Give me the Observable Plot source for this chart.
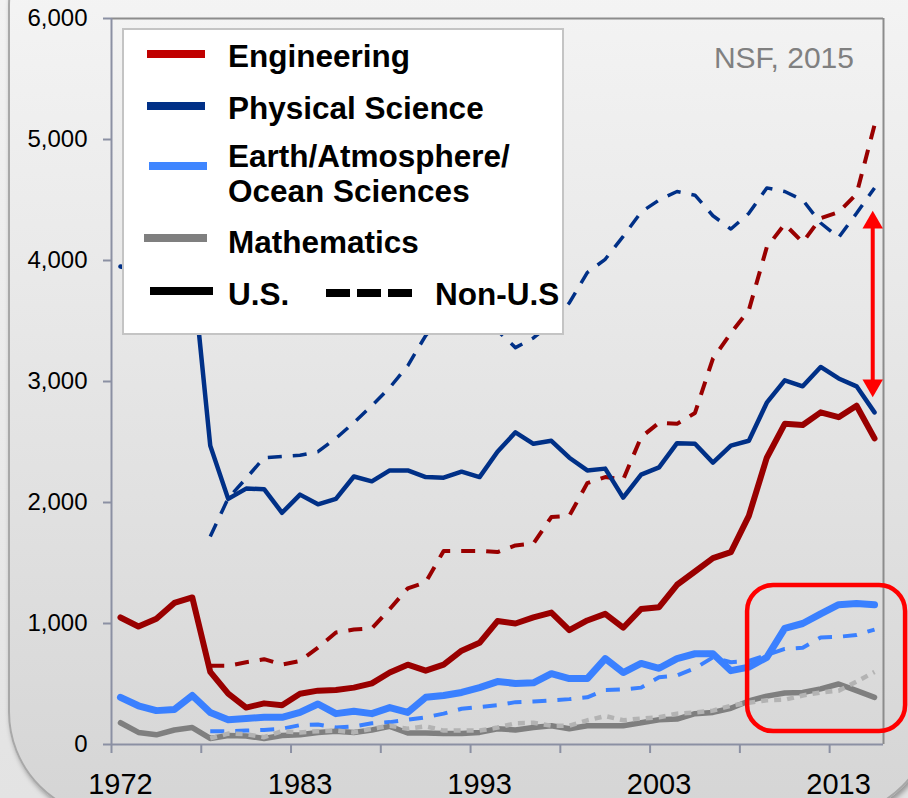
<!DOCTYPE html>
<html><head><meta charset="utf-8">
<script src="https://cdn.jsdelivr.net/npm/d3@7"></script>
<script src="https://cdn.jsdelivr.net/npm/@observablehq/plot@0.6"></script>
<style>
html,body{margin:0;padding:0;}
body{width:908px;height:798px;overflow:hidden;position:relative;background:linear-gradient(#f2f2f2,#e3e3e3);font-family:Arial,"Liberation Sans",sans-serif;}
#frame{position:absolute;left:8px;top:-100px;width:922px;height:914px;border:2px solid #a8a8a8;border-radius:106px;background:linear-gradient(#f7f7f7 0%,#d5d5d5 100%);box-shadow:2px 3px 5px rgba(0,0,0,0.35);}
#chart{position:absolute;left:0;top:0;}
</style></head><body><div id="frame"></div><div id="chart"></div>
<script>
// Categories (one year missing in the source series: 1973)
const years = [1972,1974,1975,1976,1977,1978,1979,1980,1981,1982,1983,1984,1985,1986,1987,1988,1989,1990,1991,1992,1993,1994,1995,1996,1997,1998,1999,2000,2001,2002,2003,2004,2005,2006,2007,2008,2009,2010,2011,2012,2013,2014,2015];
const xLabelIdx = [0,10,20,30,40];
const xTickBounds = [-0.5,4.5,9.5,14.5,19.5,24.5,29.5,34.5,39.5];
const yTicks = [0,1000,2000,3000,4000,5000,6000];

const seriesNames = ["Engineering","Physical Science","Earth/Atmosphere/","Ocean Sciences","Mathematics"];
const originNames = ["U.S.","Non-U.S"];
const sourceNote = "NSF, 2015";

const engUS = [1050,975,1040,1170,1215,600,420,305,340,325,420,445,450,470,505,595,660,610,660,775,840,1020,1000,1050,1090,945,1025,1080,965,1120,1135,1320,1430,1540,1590,1890,2370,2650,2640,2745,2705,2800,2530];
const engNon = [null,null,null,null,null,650,650,680,705,660,690,800,925,950,960,1120,1290,1340,1600,1600,1600,1590,1645,1660,1880,1890,2160,2210,2190,2540,2660,2650,2740,3190,3400,3590,4110,4300,4150,4350,4400,4550,5120];
const physUS = [3950,3920,3980,4000,3950,2470,2030,2115,2110,1915,2065,1985,2030,2215,2175,2265,2265,2210,2205,2255,2210,2420,2580,2485,2510,2370,2265,2280,2040,2230,2290,2490,2485,2330,2470,2510,2825,3010,2960,3120,3025,2960,2745];
const physNon = [null,null,null,null,null,1720,2035,2200,2370,2380,2390,2420,2530,2660,2800,2950,3130,3380,3550,3650,3600,3420,3280,3360,3480,3650,3900,4010,4200,4400,4500,4570,4540,4370,4260,4390,4600,4570,4500,4310,4190,4390,4600];
const earthUS = [390,320,280,290,405,265,205,215,225,225,265,335,255,275,255,305,265,390,405,430,470,520,505,510,585,545,545,710,595,670,630,710,750,750,610,640,720,960,1000,1080,1155,1165,1155];
const earthNon = [null,null,null,null,null,110,110,115,120,130,160,165,140,150,175,185,205,225,255,295,310,325,350,355,365,375,390,450,455,470,555,570,630,720,680,690,740,790,800,885,890,905,950];
const mathUS = [180,100,80,120,140,50,75,70,50,75,80,100,110,100,120,150,95,95,90,90,100,130,120,140,155,130,155,155,155,180,205,210,255,265,300,360,400,425,430,460,500,445,390];
const mathNon = [null,null,null,null,null,50,90,85,60,110,100,110,115,100,130,155,130,150,115,115,115,140,175,180,155,155,200,235,200,215,225,255,265,280,320,345,365,370,405,430,445,520,600];

// Annotations (in data units)
const arrowIdx = [41.9];
const arrowTop = [4413];
const arrowBottom = [2868];
const boxX = [34.93, 43.73];
const boxY = [107, 1314];

const pts = arr => arr.map((v,i)=>({i, v})).filter(d => d.v != null);
const axisColor = "#8b90a3";
const fmt = d3.format(",");

const styles = [
  {data: engUS,   stroke:"#990000", w:6,   dash:null},
  {data: engNon,  stroke:"#990000", w:4,   dash:"14,11"},
  {data: physUS,  stroke:"#003087", w:4.5, dash:null},
  {data: physNon, stroke:"#003087", w:3.5, dash:"14,11"},
  {data: earthUS, stroke:"#3a80ff", w:7,   dash:null},
  {data: earthNon,stroke:"#3a80ff", w:4,   dash:"14,11"},
  {data: mathUS,  stroke:"#7f7f7f", w:5.5, dash:null},
  {data: mathNon, stroke:"#b3b3b3", w:4.5, dash:"7,6"}
];

const lineMarks = styles.map(s => Plot.line(pts(s.data), {
  x:"i", y:"v", stroke:s.stroke, strokeWidth:s.w,
  strokeDasharray:s.dash ?? undefined,
  strokeLinejoin:"round", strokeLinecap: s.dash ? "butt" : "round"
}));

const chart = Plot.plot({
  width:908, height:798,
  marginLeft:111, marginRight:25, marginTop:18, marginBottom:54,
  x:{domain:[-0.5,42.5], axis:null},
  y:{domain:[0,6000], axis:null},
  style:{background:"transparent", fontFamily:"Arial, 'Liberation Sans', sans-serif", overflow:"visible"},
  marks:[
    Plot.ruleY([6000], {stroke:"#8c8c8c", strokeWidth:2}),
    Plot.ruleX([42.5], {stroke:"#8c8c8c", strokeWidth:2}),
    // y ticks and labels
    Plot.ruleY(yTicks, {y:d=>d, x1:-0.5, x2:-0.5, insetLeft:-8, stroke:axisColor, strokeWidth:2}),
    Plot.text(yTicks, {x:-0.5, y:d=>d, text:d=>fmt(d), textAnchor:"end", dx:-24, fontSize:24, fill:"#000"}),
    // x ticks and labels
    Plot.ruleX(xTickBounds, {x:d=>d, y1:0, y2:0, insetBottom:-9, stroke:axisColor, strokeWidth:2}),
    Plot.text(xLabelIdx, {x:d=>d, y:0, text:i=>String(years[i]), dy:40, fontSize:29, fill:"#000"}),
    Plot.ruleX([-0.5], {stroke:axisColor, strokeWidth:2}),
    Plot.ruleY([0], {stroke:axisColor, strokeWidth:2}),
    ...lineMarks,
    Plot.rect([0], {x1:()=>boxX[0], x2:()=>boxX[1], y1:()=>boxY[0], y2:()=>boxY[1], fill:"none", stroke:"#ff0000", strokeWidth:4.5, rx:26}),
    Plot.ruleX(arrowIdx, {x:d=>d, y1:(d,k)=>arrowTop[k], y2:(d,k)=>arrowBottom[k], stroke:"#ff0000", strokeWidth:4, insetTop:14, insetBottom:14}),
    Plot.dot(arrowIdx, {x:d=>d, y:(d,k)=>arrowTop[k], symbol:"triangle", r:7.6, fill:"#ff0000", stroke:"none", dy:12}),
    Plot.dot(arrowIdx, {x:d=>d, y:(d,k)=>arrowBottom[k], symbol:"triangle", r:7.6, fill:"#ff0000", stroke:"none", dy:-12, rotate:180})
  ]
});
document.getElementById("chart").appendChild(chart);

// Legend and source note (overlay inside the same SVG)
const svg = d3.select(chart);
const g = svg.append("g").attr("font-family","Arial, 'Liberation Sans', sans-serif").attr("text-anchor","start");
g.append("rect").attr("x",123).attr("y",29).attr("width",440).attr("height",305)
  .attr("fill","#ffffff").attr("stroke","#c4c4c4").attr("stroke-width",2);
const legendRows = [
  {color:"#c00000", x1:147, x2:205, y:54, texts:[[seriesNames[0],67]]},
  {color:"#003087", x1:147, x2:205, y:106, texts:[[seriesNames[1],119]]},
  {color:"#3f86ff", x1:149, x2:207, y:166, texts:[[seriesNames[2],167],[seriesNames[3],202]]},
  {color:"#7f7f7f", x1:144, x2:207, y:238, texts:[[seriesNames[4],253]]},
  {color:"#000000", x1:150, x2:213, y:291, texts:[[originNames[0],305]]}
];
legendRows.forEach(r => {
  g.append("line").attr("x1",r.x1).attr("x2",r.x2).attr("y1",r.y).attr("y2",r.y)
    .attr("stroke",r.color).attr("stroke-width",8);
  r.texts.forEach(([t,yb]) => g.append("text").attr("x",228).attr("y",yb).attr("text-anchor","start")
    .attr("font-size",31.5).attr("font-weight","bold").attr("fill","#000").text(t));
});
g.append("line").attr("x1",326).attr("x2",412).attr("y1",293).attr("y2",293)
  .attr("stroke","#000").attr("stroke-width",8).attr("stroke-dasharray","24,7");
g.append("text").attr("x",435).attr("y",305).attr("text-anchor","start").attr("font-size",31.5).attr("font-weight","bold").attr("fill","#000").text(originNames[1]);
g.append("text").attr("x",854).attr("y",68).attr("text-anchor","end").attr("font-size",30).attr("fill","#808080").text(sourceNote);
</script>
</body></html>
